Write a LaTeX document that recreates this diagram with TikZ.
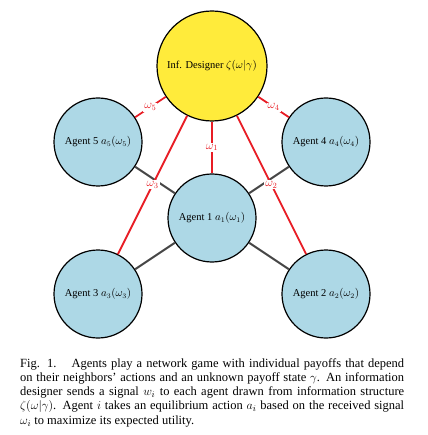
\documentclass[tikz,border=0pt]{standalone}
\usepackage{fontspec}
\setmainfont{Liberation Serif}
\begin{document}
\begin{tikzpicture}[x=1pt,y=-1pt,
  agent/.style={circle,draw=black,line width=1.2pt,fill=agentblue,minimum size=88pt,inner sep=0pt,font=\fontsize{10.5}{12}\selectfont},
  designer/.style={circle,draw=black,line width=1.2pt,fill=designyellow,minimum size=110pt,inner sep=0pt,font=\fontsize{10.5}{12}\selectfont},
  sig/.style={draw=sigred,line width=1.8pt},
  link/.style={draw=linkgray,line width=2pt},
  siglab/.style={fill=white,inner sep=1pt,text=sigred,font=\fontsize{12}{13}\selectfont}]
\definecolor{agentblue}{RGB}{173,216,230}
\definecolor{designyellow}{RGB}{255,235,59}
\definecolor{sigred}{RGB}{232,28,36}
\definecolor{linkgray}{RGB}{70,70,70}
\useasboundingbox (0,0) rectangle (427,435);
\node[designer] (D) at (212,66) {Inf. Designer $\zeta(\omega|\gamma)$};
\node[agent] (A5) at (98,142) {Agent 5 $a_5(\omega_5)$};
\node[agent] (A4) at (326,142) {Agent 4 $a_4(\omega_4)$};
\node[agent] (A1) at (212,218) {Agent 1 $a_1(\omega_1)$};
\node[agent] (A3) at (98,294) {Agent 3 $a_3(\omega_3)$};
\node[agent] (A2) at (326,294) {Agent 2 $a_2(\omega_2)$};
\path[link] (A5) -- (A1);
\path[link] (A4) -- (A1);
\path[link] (A3) -- (A1);
\path[link] (A2) -- (A1);
\path[sig] (D) -- node[siglab] {$\omega_5$} (A5);
\path[sig] (D) -- node[siglab] {$\omega_4$} (A4);
\path[sig] (D) -- node[siglab] {$\omega_1$} (A1);
\path[sig] (D) -- node[siglab] {$\omega_3$} (A3);
\path[sig] (D) -- node[siglab] {$\omega_2$} (A2);
\node[anchor=north west,inner sep=0pt,text width=384pt,align=justify,font=\fontsize{12.5}{14.3}\selectfont] (cap) at (20,358)
{Fig. 1.\hspace{1.2em}Agents play a network game with individual payoffs that depend\linebreak
on their neighbors' actions and an unknown payoff state $\gamma$. An information\linebreak
designer sends a signal $w_i$ to each agent drawn from information structure\linebreak
$\zeta(\omega|\gamma)$. Agent $i$ takes an equilibrium action $a_i$ based on the received signal\linebreak
$\omega_i$ to maximize its expected utility.};
\end{tikzpicture}
\end{document}
